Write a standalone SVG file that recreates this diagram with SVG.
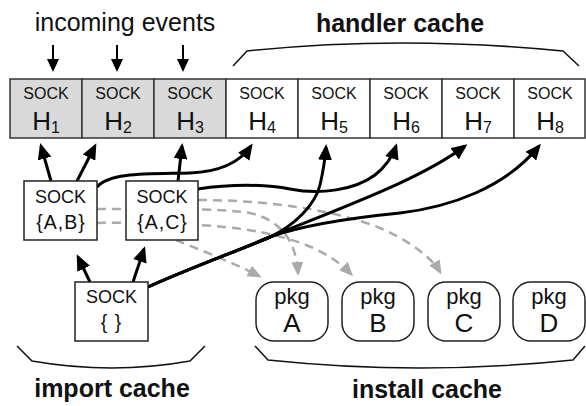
<svg xmlns="http://www.w3.org/2000/svg" width="586" height="406" viewBox="0 0 586 406">
<style>
text{font-family:"Liberation Sans",Arial,Helvetica,sans-serif;fill:#111;text-anchor:middle}
.cell{stroke:#333;stroke-width:1.5;fill:#fff}
.hot{fill:#d9d9d9}
.box{stroke:#222;stroke-width:1.5;fill:#fff}
.s16{font-size:16px}
.s18{font-size:18px}
.set{font-size:19.5px;letter-spacing:1px}
.h{font-size:26px}
.sub{font-size:16px}
.title{font-size:25px;font-weight:bold}
.conn{fill:none;stroke:#000;stroke-width:3}
.in{fill:none;stroke:#000;stroke-width:2}
.dash{fill:none;stroke:#aaa;stroke-width:2.5;stroke-dasharray:9 6}
.brace{fill:none;stroke:#111;stroke-width:1.5}
</style>
<defs>
<marker id="ah" markerUnits="userSpaceOnUse" viewBox="0 0 16 14" markerWidth="16" markerHeight="14" refX="13" refY="7" orient="auto"><path d="M0,0 L16,7 L0,14 z" fill="#000"/></marker>
<marker id="ahs" markerUnits="userSpaceOnUse" viewBox="0 0 13 12" markerWidth="13" markerHeight="12" refX="11" refY="6" orient="auto"><path d="M0,0 L13,6 L0,12 z" fill="#000"/></marker>
<marker id="ag" markerUnits="userSpaceOnUse" viewBox="0 0 14 12" markerWidth="14" markerHeight="12" refX="11" refY="6" orient="auto"><path d="M0,0 L14,6 L0,12 z" fill="#aaa"/></marker>
</defs>

<g id="labels">
<text x="125" y="31" style="font-size:25px">incoming events</text>
<text x="400" y="32" class="title">handler cache</text>
<text x="112" y="397" class="title">import cache</text>
<text x="427" y="398" class="title">install cache</text>
<path class="brace" d="M233,66 L247,51 Q400,35 563,51 L579,66"/>
<path class="brace" d="M17,346 L32,361 Q112,375 190,361 L205,346"/>
<path class="brace" d="M255,346 L268,360 Q420,376 573,360 L585,346"/>
</g>

<g id="connectors">
<path class="in" marker-end="url(#ahs)" d="M53,45 L53,70"/>
<path class="in" marker-end="url(#ahs)" d="M117,45 L117,70"/>
<path class="in" marker-end="url(#ahs)" d="M183,45 L183,70"/>

<path class="dash" marker-end="url(#ag)" d="M198,200 C260,200 330,208 380,228 C410,241 432,258 440,272"/>
<path class="dash" marker-end="url(#ag)" d="M97,209 C150,209 220,208 250,213 C280,220 296,240 298,273"/>
<path class="dash" marker-end="url(#ag)" d="M97,223 C150,222 220,224 260,232 C300,240 330,252 351,274"/>
<path class="dash" marker-end="url(#ag)" d="M176,240 C200,250 232,262 259,276"/>

<path class="conn" marker-end="url(#ah)" d="M51,181 L41,146"/>
<path class="conn" marker-end="url(#ah)" d="M77,181 L95,146"/>
<path class="conn" marker-end="url(#ah)" d="M178,181 L182,146"/>
<path class="conn" marker-end="url(#ah)" d="M97,187 C110,172 150,174 190,173 C215,172 238,165 251,146"/>
<path class="conn" marker-end="url(#ah)" d="M198,189 C230,184 265,184 290,189 C320,195 355,190 375,175 C385,167 392,158 396,146"/>
<path class="conn" marker-end="url(#ah)" d="M148,287 C190,268 240,250 270,237 C295,225 315,205 320,185 C323,172 325,160 326,147"/>
<path class="conn" marker-end="url(#ah)" d="M148,287 C190,268 240,250 270,237 C340,208 420,180 465,146"/>
<path class="conn" marker-end="url(#ah)" d="M148,287 C190,268 240,250 270,237 C300,226 350,218 400,213 C450,207 505,188 539,146"/>
<path class="conn" marker-end="url(#ah)" d="M90,282 L78,257"/>
<path class="conn" marker-end="url(#ah)" d="M133,282 L144,249"/>
</g>

<g id="H1"><rect class="cell hot" x="10" y="79" width="72" height="59"/><text x="46" y="99" class="s16">SOCK</text><text x="46" y="130" class="h">H<tspan class="sub" dy="3">1</tspan></text></g>
<g id="H2"><rect class="cell hot" x="82" y="79" width="72" height="59"/><text x="118" y="99" class="s16">SOCK</text><text x="118" y="130" class="h">H<tspan class="sub" dy="3">2</tspan></text></g>
<g id="H3"><rect class="cell hot" x="154" y="79" width="72" height="59"/><text x="190" y="99" class="s16">SOCK</text><text x="190" y="130" class="h">H<tspan class="sub" dy="3">3</tspan></text></g>
<g id="H4"><rect class="cell" x="226" y="79" width="72" height="59"/><text x="262" y="99" class="s16">SOCK</text><text x="262" y="130" class="h">H<tspan class="sub" dy="3">4</tspan></text></g>
<g id="H5"><rect class="cell" x="298" y="79" width="72" height="59"/><text x="334" y="99" class="s16">SOCK</text><text x="334" y="130" class="h">H<tspan class="sub" dy="3">5</tspan></text></g>
<g id="H6"><rect class="cell" x="370" y="79" width="72" height="59"/><text x="406" y="99" class="s16">SOCK</text><text x="406" y="130" class="h">H<tspan class="sub" dy="3">6</tspan></text></g>
<g id="H7"><rect class="cell" x="442" y="79" width="72" height="59"/><text x="478" y="99" class="s16">SOCK</text><text x="478" y="130" class="h">H<tspan class="sub" dy="3">7</tspan></text></g>
<g id="H8"><rect class="cell" x="514" y="79" width="71" height="59"/><text x="550" y="99" class="s16">SOCK</text><text x="550" y="130" class="h">H<tspan class="sub" dy="3">8</tspan></text></g>

<g id="sockAB"><rect class="box" x="24" y="181" width="73" height="59"/><text x="60.5" y="203" class="s18">SOCK</text><text x="61" y="229" class="set">{A,B}</text></g>
<g id="sockAC"><rect class="box" x="126" y="181" width="72" height="59"/><text x="162" y="203" class="s18">SOCK</text><text x="162.5" y="229" class="set">{A,C}</text></g>
<g id="sockEmpty"><rect class="box" x="75" y="282" width="73" height="59"/><text x="111.5" y="303" class="s18">SOCK</text><text x="111.5" y="329" class="set">{ }</text></g>

<g id="pkgA"><rect class="box" x="256" y="282" width="72" height="59" rx="18"/><text x="292" y="304" style="font-size:22px">pkg</text><text x="292" y="332" style="font-size:26px">A</text></g>
<g id="pkgB"><rect class="box" x="342" y="282" width="72" height="59" rx="18"/><text x="378" y="304" style="font-size:22px">pkg</text><text x="378" y="332" style="font-size:26px">B</text></g>
<g id="pkgC"><rect class="box" x="428" y="282" width="72" height="59" rx="18"/><text x="464" y="304" style="font-size:22px">pkg</text><text x="464" y="332" style="font-size:26px">C</text></g>
<g id="pkgD"><rect class="box" x="513" y="282" width="72" height="59" rx="18"/><text x="549" y="304" style="font-size:22px">pkg</text><text x="549" y="332" style="font-size:26px">D</text></g>
</svg>
